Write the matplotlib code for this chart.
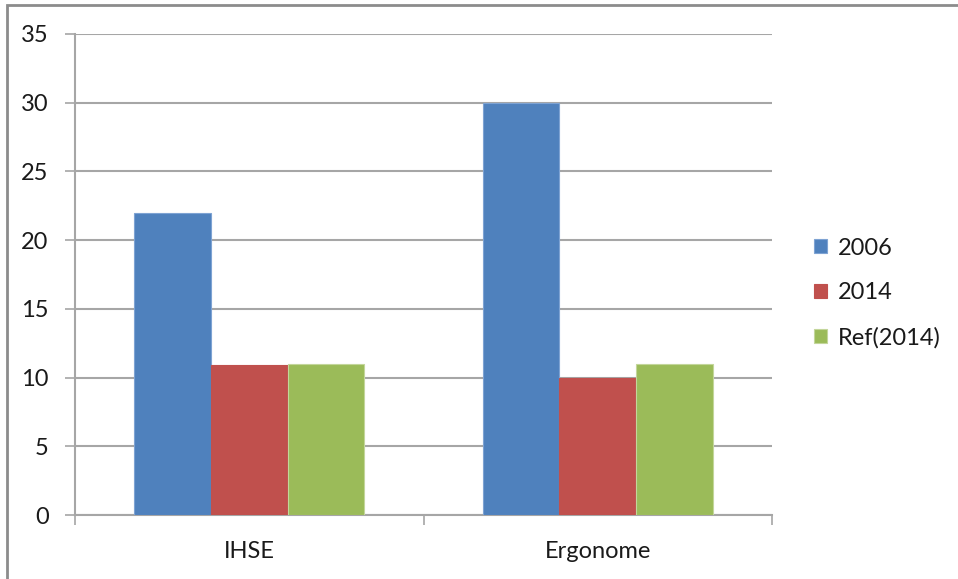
import matplotlib.pyplot as plt
import matplotlib.patches as mpatches
import numpy as np

plt.rcParams['font.family'] = ['Lato', 'DejaVu Sans']

# data
categories = ['IHSE', 'Ergonome']
series_names = ['2006', '2014', 'Ref(2014)']
vals_2006 = [22, 30]
vals_2014 = [10.9, 10]
vals_ref = [11, 11]

colors = ['#4f81bd', '#c0504d', '#9bbb59']
edges = ['#7ea3d3', '#c0504d', '#c3d69b']

fig = plt.figure(figsize=(9.58, 5.79), dpi=100)
W, H = 958, 579
ax = fig.add_axes([75 / W, 1 - 515 / H, (772 - 75) / W, (515 - 34) / H])

x = np.arange(len(categories))
bw = 0.22
for k, (vals, name) in enumerate(zip([vals_2006, vals_2014, vals_ref], series_names)):
    ax.bar(x + (k - 1) * bw, vals, width=bw, color=colors[k], label=name,
           edgecolor=edges[k], linewidth=0.8, zorder=3)

fs = 17
ax.set_xlim(-0.5, 1.5)
ax.set_ylim(0, 35)
ax.set_yticks(range(0, 36, 5))
ax.yaxis.grid(True, color='#a6a6a6', linewidth=1.5, zorder=0)

# category labels centred, ticks on the category boundaries
ax.set_xticks(x)
ax.set_xticklabels(categories, fontsize=fs, color='#1a1a1a')
ax.tick_params(axis='x', length=0, pad=19)
ax.set_xticks([-0.5, 0.5, 1.5], minor=True)
ax.tick_params(axis='x', which='minor', length=7, color='#a6a6a6', width=1.2)
ax.tick_params(axis='y', length=7, color='#a6a6a6', width=1.2, labelsize=fs,
               labelcolor='#1a1a1a', pad=12)

for s in ['top', 'right']:
    ax.spines[s].set_visible(False)
for s in ['left', 'bottom']:
    ax.spines[s].set_color('#a6a6a6')
    ax.spines[s].set_linewidth(1.5)

leg = fig.legend(loc='center left', bbox_to_anchor=(793 / W, 1 - 293 / H),
                 frameon=False, fontsize=fs, handlelength=0.55, handleheight=0.55,
                 handletextpad=0.45, labelspacing=1.0)
for t in leg.get_texts():
    t.set_color('#1a1a1a')

# outer chart frame, running off the right and bottom edges
frame = mpatches.Rectangle((7 / W, -0.1), 1.2, 1 - 5 / H + 0.1, transform=fig.transFigure,
                           fill=False, edgecolor='#8c8c8c', linewidth=2)
fig.patches.append(frame)

fig.savefig('out.png', dpi=100)
